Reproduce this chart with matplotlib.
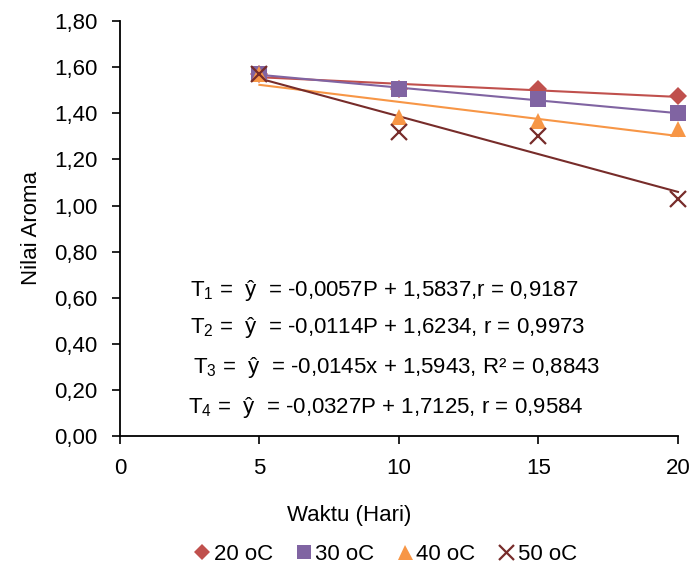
import numpy as np
import matplotlib.pyplot as plt
from matplotlib.ticker import FuncFormatter

plt.rcParams['font.family'] = ['Liberation Sans', 'DejaVu Sans']
plt.rcParams['mathtext.fontset'] = 'custom'
plt.rcParams['mathtext.rm'] = 'Liberation Sans'
plt.rcParams['mathtext.it'] = 'Liberation Sans'

# data
hari = [5, 10, 15, 20]
t20 = [1.57, 1.505, 1.505, 1.475]
t30 = [1.57, 1.505, 1.46, 1.40]
t40 = [1.57, 1.385, 1.365, 1.33]
t50 = [1.57, 1.32, 1.30, 1.03]
labels = ['20 oC', '30 oC', '40 oC', '50 oC']
warna = ['#C0504D', '#8064A2', '#F79646', '#772C2A']
markers = ['D', 's', '^', 'x']
msizes = [9, 11, 12, 12]

persamaan = [
    'T$_1$ =  ŷ  = -0,0057P + 1,5837,r = 0,9187',
    'T$_2$ =  ŷ  = -0,0114P + 1,6234, r = 0,9973',
    'T$_3$ =  ŷ  = -0,0145x + 1,5943, R² = 0,8843',
    'T$_4$ =  ŷ  = -0,0327P + 1,7125, r = 0,9584',
]
pos_eq = [(2.5, 0.633), (2.5, 0.473), (2.62, 0.299), (2.44, 0.126)]

fig = plt.figure(figsize=(6.89, 5.7), dpi=100)
ax = fig.add_axes([0.174, 0.235, 0.81, 0.728])

semua = [t20, t30, t40, t50]
x = np.array(hari)
for y, c in zip(semua, warna):
    k = np.polyfit(x, y, 1)
    ax.plot(x, np.polyval(k, x), color=c, lw=1.5, zorder=2, clip_on=False)
for y, c, m, ms, lab in zip(semua, warna, markers, msizes, labels):
    mew = 1.6 if m == 'x' else 0
    ax.plot(hari, y, linestyle='none', marker=m, ms=ms, color=c, mew=mew,
            label=lab, zorder=3, clip_on=False)

for teks, (px, py) in zip(persamaan, pos_eq):
    ax.text(px, py, teks, fontsize=16, va='center', ha='left')

ax.set_xlim(0, 20)
ax.set_ylim(0, 1.8)
ax.set_xticks([0, 5, 10, 15, 20])
ax.set_yticks(np.arange(0, 1.81, 0.2))
ax.yaxis.set_major_formatter(FuncFormatter(lambda v, p: f'{v:.2f}'.replace('.', ',')))
ax.spines['top'].set_visible(False)
ax.spines['right'].set_visible(False)
ax.spines['left'].set_linewidth(1.3)
ax.spines['bottom'].set_linewidth(1.3)
ax.tick_params(labelsize=16, direction='out', length=6, width=1.2)
ax.tick_params(axis='y', pad=10)
ax.tick_params(axis='x', pad=10)

fig.text(0.507, 0.096, 'Waktu (Hari)', fontsize=16, ha='center', va='center')
fig.text(0.045, 0.6, 'Nilai Aroma', fontsize=16, ha='center', va='center', rotation=90)

fig.legend(loc='center', bbox_to_anchor=(0.559, 0.027), ncol=4, frameon=False,
           fontsize=16, handlelength=0.8, handletextpad=0.1, columnspacing=1.0,
           markerscale=0.9)

fig.savefig('out.png', dpi=100)
